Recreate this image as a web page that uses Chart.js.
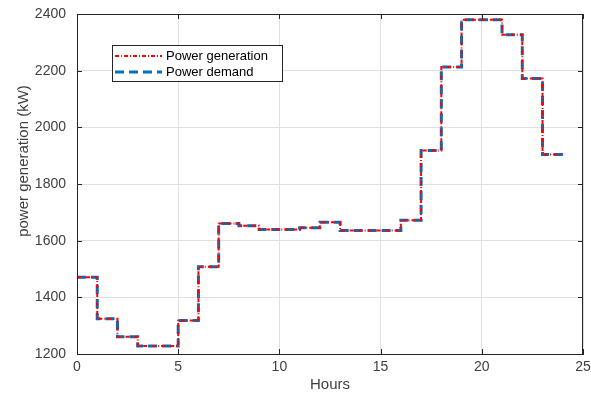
<!DOCTYPE html>
<html>
<head>
<meta charset="utf-8">
<script src="https://cdn.jsdelivr.net/npm/chart.js@4/dist/chart.umd.min.js"></script>
<style>
    html, body { margin: 0; padding: 0; background: #fff; }
    #wrap { width: 591px; height: 394px; }
</style>
</head>
<body>
<div id="wrap"><canvas id="power_chart" width="591" height="394"></canvas></div>
<script>
// hourly values, last point repeated so the final step reaches hour 24
const hours = [0, 1, 2, 3, 4, 5, 6, 7, 8, 9, 10, 11, 12, 13, 14, 15, 16, 17, 18, 19, 20, 21, 22, 23, 24];
const generation = [1471, 1324, 1261, 1228, 1228, 1318, 1508, 1661, 1653, 1639, 1639, 1646, 1665, 1636, 1636, 1636, 1672, 1918, 2213, 2380, 2380, 2327, 2172, 1904, 1904];
const demand = [1471, 1324, 1261, 1228, 1228, 1318, 1508, 1661, 1653, 1639, 1639, 1646, 1665, 1636, 1636, 1636, 1672, 1918, 2213, 2380, 2380, 2327, 2172, 1904, 1904];
const xTicks = [0, 5, 10, 15, 20, 25];
const yTicks = [1200, 1400, 1600, 1800, 2000, 2200, 2400];

const axisColor = '#262626';
const labelColor = '#404040';
const red = '#ff0000';
const blue = '#0072bd';
const fontFamily = '"Liberation Sans", Arial, sans-serif';

// box, inward ticks, y title and the legend inside the plot
const boxPlugin = {
    id: 'boxPlugin',
    afterDraw(chart) {
        const ctx = chart.ctx;
        const a = chart.chartArea;
        const xs = chart.scales.x, ys = chart.scales.y;
        ctx.save();
        ctx.strokeStyle = axisColor;
        ctx.lineWidth = 1;
        ctx.strokeRect(a.left + 0.5, a.top + 0.5, a.right - a.left - 1, a.bottom - a.top);
        ctx.beginPath();
        xTicks.forEach(function (t) {
            const px = Math.round(xs.getPixelForValue(t)) + 0.5;
            ctx.moveTo(px, a.bottom); ctx.lineTo(px, a.bottom - 5);
            ctx.moveTo(px, a.top); ctx.lineTo(px, a.top + 5);
        });
        yTicks.forEach(function (t) {
            const py = Math.round(ys.getPixelForValue(t)) + 0.5;
            ctx.moveTo(a.left, py); ctx.lineTo(a.left + 5, py);
            ctx.moveTo(a.right, py); ctx.lineTo(a.right - 5, py);
        });
        ctx.stroke();

        // y axis title (sits above the axis middle in the original)
        ctx.save();
        ctx.translate(24, 161);
        ctx.rotate(-Math.PI / 2);
        ctx.fillStyle = labelColor;
        ctx.font = '15px ' + fontFamily;
        ctx.textAlign = 'center';
        ctx.textBaseline = 'middle';
        ctx.fillText('power generation (kW)', 0, 0);
        ctx.restore();

        // legend
        ctx.fillStyle = '#fff';
        ctx.fillRect(112, 45, 170, 36);
        ctx.strokeStyle = axisColor;
        ctx.strokeRect(112.5, 45.5, 170, 36);
        const rows = [
            { label: 'Power generation', color: red, width: 2, dash: [4, 2, 1, 2], y: 56 },
            { label: 'Power demand', color: blue, width: 3, dash: [9, 5], y: 72 }
        ];
        rows.forEach(function (r) {
            ctx.beginPath();
            ctx.setLineDash(r.dash);
            ctx.strokeStyle = r.color;
            ctx.lineWidth = r.width;
            ctx.moveTo(115, r.y);
            ctx.lineTo(162, r.y);
            ctx.stroke();
            ctx.setLineDash([]);
            ctx.fillStyle = '#000';
            ctx.font = '13px ' + fontFamily;
            ctx.textBaseline = 'middle';
            ctx.fillText(r.label, 166, r.y);
        });
        ctx.restore();
    }
};

const ctx1 = document.getElementById('power_chart').getContext('2d');
const chart1 = new Chart(ctx1, {
    type: 'line',
    data: {
        datasets: [{
            label: 'Power generation',
            data: hours.map((h, i) => ({ x: h, y: generation[i] })),
            borderColor: red,
            borderWidth: 2,
            borderDash: [4, 2, 1, 2],
            stepped: 'before',
            pointRadius: 0,
            fill: false
        }, {
            label: 'Power demand',
            data: hours.map((h, i) => ({ x: h, y: demand[i] })),
            borderColor: blue,
            borderWidth: 3,
            borderDash: [9, 5],
            stepped: 'before',
            pointRadius: 0,
            fill: false
        }]
    },
    options: {
        responsive: false,
        animation: false,
        layout: { padding: { left: 0, right: 0, top: 14, bottom: 0 } },
        plugins: {
            legend: { display: false },
            tooltip: { enabled: false }
        },
        scales: {
            x: {
                type: 'linear',
                min: 0,
                max: 25,
                afterBuildTicks: function (scale) {
                    scale.ticks = xTicks.map(v => ({ value: v }));
                },
                afterFit: function (scale) {
                    scale.height = 40;
                    scale.paddingRight = 8;
                },
                grid: { color: '#e0e0e0', drawTicks: false },
                border: { color: axisColor },
                ticks: {
                    padding: 5,
                    color: labelColor,
                    maxRotation: 0,
                    font: { size: 14, family: fontFamily }
                },
                title: {
                    display: true,
                    text: 'Hours',
                    color: labelColor,
                    padding: { top: 2, bottom: 0 },
                    font: { size: 15, family: fontFamily }
                }
            },
            y: {
                min: 1200,
                max: 2400,
                afterBuildTicks: function (scale) {
                    scale.ticks = yTicks.map(v => ({ value: v }));
                },
                afterFit: function (scale) {
                    scale.width = 77;
                    scale.paddingTop = 0;
                    scale.paddingBottom = 0;
                },
                grid: { color: '#e0e0e0', drawTicks: false },
                border: { color: axisColor },
                ticks: {
                    padding: 11,
                    color: labelColor,
                    callback: v => String(v),
                    font: { size: 14, family: fontFamily }
                }
            }
        }
    },
    plugins: [boxPlugin]
});
</script>
</body>
</html>
